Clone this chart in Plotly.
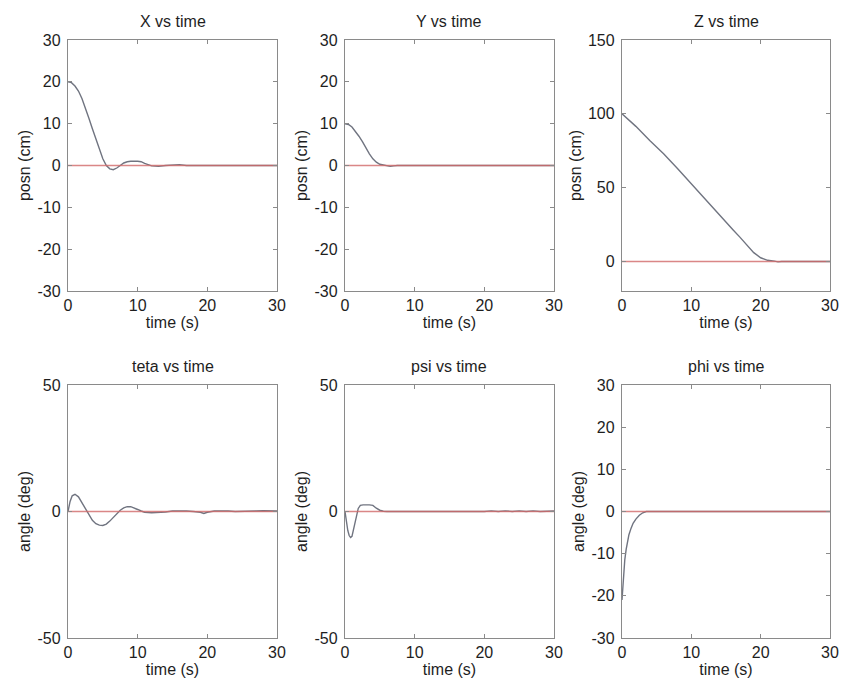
import plotly.graph_objects as go

# ---- data ----
t_x = [0, 0.5, 1, 1.5, 2, 2.5, 3, 3.5, 4, 4.5, 5, 5.5, 6, 6.5, 7, 7.5, 8, 8.5, 9, 10, 10.5, 11, 11.5, 12, 13, 14, 16, 17, 30]
x_pos = [20, 19.8, 19, 17.8, 16, 13.8, 11.3, 8.8, 6.3, 3.8, 1.6, 0, -0.8, -1.0, -0.6, 0, 0.6, 0.9, 1.0, 1.0, 0.9, 0.5, 0.1, -0.1, -0.2, 0, 0.2, 0, 0]

t_y = [0, 0.5, 1, 1.5, 2, 2.5, 3, 3.5, 4, 4.5, 5, 5.5, 6, 6.5, 7, 7.5, 30]
y_pos = [10, 9.8, 9.2, 8.2, 7.0, 5.7, 4.2, 2.8, 1.6, 0.8, 0.3, 0.1, -0.1, -0.2, -0.1, 0, 0]

t_z = [0, 2, 4, 6, 8, 10, 12, 14, 16, 17, 18, 19, 20, 21, 22, 22.5, 23, 30]
z_pos = [100, 91.5, 82, 73, 63, 52.5, 42, 32, 21.5, 16.5, 11, 6, 2.5, 0.8, 0.2, -0.3, 0, 0]

t_teta = [0, 0.3, 0.6, 1, 1.5, 2, 2.5, 3, 3.5, 4, 4.5, 5, 5.5, 6, 6.5, 7, 7.5, 8, 8.5, 9, 9.5, 10, 10.5, 11, 12, 13, 14,
          15, 16, 17, 18, 19, 19.5, 20, 21, 22, 23, 24, 26, 27, 28, 30]
teta = [0, 4, 6.2, 6.8, 5.8, 3.5, 1, -1.5, -3.5, -4.8, -5.4, -5.5, -5, -3.8, -2.3, -0.8, 0.5, 1.4, 1.9, 1.9, 1.5, 0.8, 0.2,
        -0.3, -0.5, -0.4, -0.2, 0.2, 0.3, 0.2, 0, -0.3, -0.8, -0.3, 0.2, 0.3, 0.2, 0, 0, 0.2, 0.3, 0.2]

t_psi = [0, 0.2, 0.4, 0.6, 0.8, 1, 1.3, 1.6, 1.9, 2.2, 2.6, 3.5, 4, 4.5, 5, 5.5, 6, 20, 21, 22, 23, 24, 25, 26, 27, 28, 29, 30]
psi = [0, -4, -7.5, -9.5, -10.3, -9.8, -6, -2, 1.2, 2.4, 2.6, 2.6, 2.4, 1.3, 0.5, 0.1, 0, 0, 0.25, 0, 0.25, 0, 0.25, 0, 0.25, 0, 0.25, 0.2]

t_phi = [0, 0.1, 0.2, 0.4, 0.6, 0.8, 1, 1.3, 1.6, 2, 2.5, 3, 3.5, 30]
phi = [-21, -18, -15, -11.5, -9, -7, -5.5, -4, -2.8, -1.8, -0.9, -0.3, 0, 0]

panels = [
    dict(title="X vs time", t=t_x, v=x_pos, yr=[-30, 30], ticks=[-30, -20, -10, 0, 10, 20, 30], ylabel="posn (cm)"),
    dict(title="Y vs time", t=t_y, v=y_pos, yr=[-30, 30], ticks=[-30, -20, -10, 0, 10, 20, 30], ylabel="posn (cm)"),
    dict(title="Z vs time", t=t_z, v=z_pos, yr=[-20, 150], ticks=[0, 50, 100, 150], ylabel="posn (cm)"),
    dict(title="teta vs time", t=t_teta, v=teta, yr=[-50, 50], ticks=[-50, 0, 50], ylabel="angle (deg)"),
    dict(title="psi vs time", t=t_psi, v=psi, yr=[-50, 50], ticks=[-50, 0, 50], ylabel="angle (deg)"),
    dict(title="phi vs time", t=t_phi, v=phi, yr=[-30, 30], ticks=[-30, -20, -10, 0, 10, 20, 30], ylabel="angle (deg)"),
]
time_ticks = [0, 10, 20, 30]

# ---- layout geometry (pixels) ----
W, H = 841, 685
col_px = [(68, 277), (345, 554), (622, 830)]
row_px = [(40, 291), (385, 638)]

FONT = "Liberation Sans, Arial, sans-serif"
TXT = "#1e1e1e"
FRAME = "#8a8a8a"
DATA_C = "#707480"
REF_C = "#d26a6a"

fig = go.Figure()
layout = {}
annotations = []

for i, p in enumerate(panels):
    r, c = divmod(i, 3)
    n = i + 1
    xa = "x" if n == 1 else f"x{n}"
    ya = "y" if n == 1 else f"y{n}"
    xkey = "xaxis" if n == 1 else f"xaxis{n}"
    ykey = "yaxis" if n == 1 else f"yaxis{n}"
    x0, x1 = col_px[c]
    y0, y1 = row_px[r]

    fig.add_trace(go.Scatter(x=p["t"], y=p["v"], mode="lines", xaxis=xa, yaxis=ya,
                             line=dict(color=DATA_C, width=1.4), showlegend=False, hoverinfo="skip"))
    fig.add_trace(go.Scatter(x=[0, 30], y=[0, 0], mode="lines", xaxis=xa, yaxis=ya,
                             line=dict(color=REF_C, width=1.4), opacity=0.8,
                             showlegend=False, hoverinfo="skip"))

    common = dict(showline=True, linecolor=FRAME, linewidth=1.3, mirror="allticks",
                  ticks="inside", ticklen=4, tickcolor=FRAME, showgrid=False, zeroline=False,
                  tickfont=dict(family=FONT, size=16, color=TXT), automargin=False,
                  fixedrange=True)
    layout[xkey] = dict(common, domain=[x0 / W, x1 / W], anchor=ya, range=[0, 30],
                        tickvals=time_ticks, ticktext=[str(v) for v in time_ticks], ticklabelstandoff=0,
                        title=dict(text="time (s)", font=dict(family=FONT, size=16, color=TXT), standoff=0))
    layout[ykey] = dict(common, domain=[1 - y1 / H, 1 - y0 / H], anchor=xa, range=p["yr"],
                        tickvals=p["ticks"], ticktext=[str(v) for v in p["ticks"]], ticklabelstandoff=3,
                        title=dict(text=p["ylabel"], font=dict(family=FONT, size=16, color=TXT), standoff=2))

    annotations.append(dict(text=p["title"], x=(x0 + x1) / 2 / W, y=1 - (y0 - 8) / H,
                            xref="paper", yref="paper", xanchor="center", yanchor="bottom",
                            showarrow=False, font=dict(family=FONT, size=16, color=TXT)))

fig.update_layout(width=W, height=H, margin=dict(l=0, r=0, t=0, b=0),
                  paper_bgcolor="white", plot_bgcolor="white",
                  annotations=annotations, **layout)

fig.write_html("out.html")
